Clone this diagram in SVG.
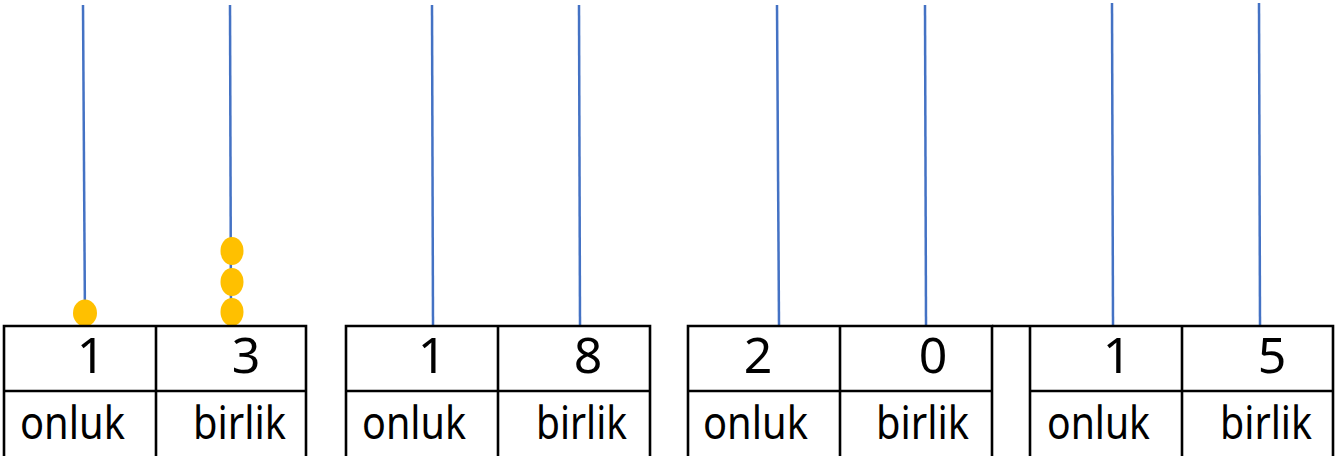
<svg xmlns="http://www.w3.org/2000/svg" width="1344" height="456" viewBox="0 0 1344 456">
<style>
.rod{stroke:#4472C4;stroke-width:2.5;fill:none}
.bead{fill:#FFC000}
.tb{stroke:#000;stroke-width:2.6;fill:none}
.dg{font-family:"Noto Sans",sans-serif;font-size:50px;fill:#000;text-anchor:middle}
.lb{font-family:"Noto Sans",sans-serif;font-size:45px;fill:#000}
</style>
<rect width="1344" height="456" fill="#fff"/>
<g id="rods">
<line class="rod" x1="83" y1="5" x2="85" y2="325"/>
<line class="rod" x1="230" y1="5" x2="231" y2="325"/>
<line class="rod" x1="432" y1="5" x2="433" y2="325"/>
<line class="rod" x1="579" y1="5" x2="580" y2="325"/>
<line class="rod" x1="777" y1="5" x2="779" y2="325"/>
<line class="rod" x1="925" y1="5" x2="926" y2="325"/>
<line class="rod" x1="1112" y1="3" x2="1113" y2="325"/>
<line class="rod" x1="1259" y1="3" x2="1260" y2="325"/>
</g>
<g id="beads">
<ellipse class="bead" cx="85" cy="313" rx="12" ry="13.5"/>
<ellipse class="bead" cx="232" cy="251" rx="11.5" ry="14"/>
<ellipse class="bead" cx="232" cy="282" rx="11.5" ry="14"/>
<ellipse class="bead" cx="232" cy="312" rx="11.5" ry="14"/>
</g>
<g id="table1">
<path class="tb" d="M4 460V326H306V460M156 326V460M4 391H306"/>
<text class="dg" x="91" y="373">1</text>
<text class="dg" x="246" y="373">3</text>
<text class="lb" x="20" y="439" textLength="105" lengthAdjust="spacingAndGlyphs">onluk</text>
<text class="lb" x="193" y="439" textLength="93" lengthAdjust="spacingAndGlyphs">birlik</text>
</g>
<g id="table2">
<path class="tb" d="M346 460V326H650V460M498 326V460M346 391H650"/>
<text class="dg" x="432" y="373">1</text>
<text class="dg" x="588" y="373">8</text>
<text class="lb" x="362" y="439" textLength="104" lengthAdjust="spacingAndGlyphs">onluk</text>
<text class="lb" x="536" y="439" textLength="91" lengthAdjust="spacingAndGlyphs">birlik</text>
</g>
<g id="table3">
<path class="tb" d="M688 460V326H992V460M840 326V460M688 391H992"/>
<text class="dg" x="758" y="373">2</text>
<text class="dg" x="933" y="373">0</text>
<text class="lb" x="703" y="439" textLength="105" lengthAdjust="spacingAndGlyphs">onluk</text>
<text class="lb" x="876" y="439" textLength="93" lengthAdjust="spacingAndGlyphs">birlik</text>
</g>
<g id="table4">
<path class="tb" d="M992 326H1030M1030 460V326H1333V460M1182 326V460M1030 391H1333"/>
<text class="dg" x="1117" y="373">1</text>
<text class="dg" x="1272" y="373">5</text>
<text class="lb" x="1047" y="439" textLength="103" lengthAdjust="spacingAndGlyphs">onluk</text>
<text class="lb" x="1220" y="439" textLength="92" lengthAdjust="spacingAndGlyphs">birlik</text>
</g>
</svg>
